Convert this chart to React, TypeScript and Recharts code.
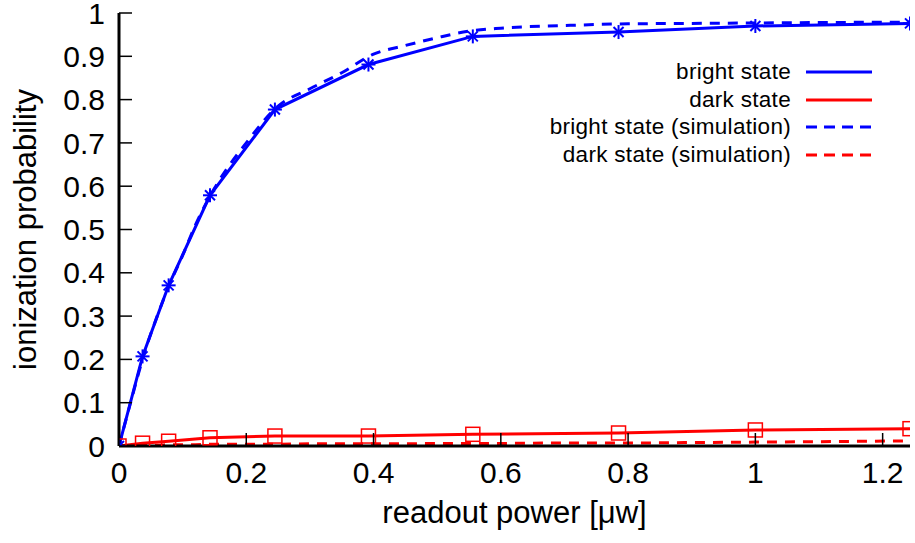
import { LineChart, Line, XAxis, YAxis } from 'recharts';

const FONT = '"Liberation Sans", Arial, Helvetica, sans-serif';
const BLUE = '#0000ff';
const RED = '#ff0000';

// measured points
const powerMeasured = [0, 0.037, 0.078, 0.143, 0.245, 0.392, 0.556, 0.785, 1.0, 1.243];
const brightMeasured = [0, 0.207, 0.371, 0.579, 0.777, 0.881, 0.946, 0.956, 0.97, 0.976];
const darkMeasured = [0, 0.0065, 0.011, 0.019, 0.023, 0.023, 0.027, 0.03, 0.037, 0.04];

// simulation curves
const powerSim = [0, 0.02, 0.04, 0.06, 0.08, 0.1, 0.12, 0.15, 0.2, 0.25, 0.3, 0.35, 0.4, 0.45, 0.5, 0.55, 0.6, 0.7, 0.8, 0.9, 1.0, 1.1, 1.243];
const brightSim = [0, 0.11, 0.215, 0.3, 0.375, 0.44, 0.51, 0.595, 0.7, 0.785, 0.825, 0.862, 0.905, 0.925, 0.943, 0.958, 0.965, 0.971, 0.975, 0.976, 0.977, 0.978, 0.979];
const darkSim = [0, 0.001, 0.002, 0.002, 0.003, 0.003, 0.003, 0.004, 0.004, 0.004, 0.005, 0.005, 0.005, 0.005, 0.006, 0.006, 0.006, 0.007, 0.007, 0.008, 0.009, 0.01, 0.012];

const xTicks = [0, 0.2, 0.4, 0.6, 0.8, 1, 1.2];
const yTicks = [0, 0.1, 0.2, 0.3, 0.4, 0.5, 0.6, 0.7, 0.8, 0.9, 1];
const X_MAX = 1.243;

const legendItems = [
  { name: 'bright state', color: BLUE, dashed: false },
  { name: 'dark state', color: RED, dashed: false },
  { name: 'bright state (simulation)', color: BLUE, dashed: true },
  { name: 'dark state (simulation)', color: RED, dashed: true },
];

const measuredData = powerMeasured.map((p, i) => ({ p, bright: brightMeasured[i], dark: darkMeasured[i] }));
const simData = powerSim.map((p, i) => ({ p, bright: brightSim[i], dark: darkSim[i] }));

const TICK_LEN = 13;
const X_GAP = 16;
const Y_GAP = 14;
const DASH = '10 8';
const TICK_FONT = 30;
const TITLE_FONT = 31;

const BottomTick = ({ x, y, payload }: any) => {
  const axisY = y - X_GAP;
  return (
    <g>
      <line x1={x} x2={x} y1={axisY} y2={axisY - TICK_LEN} stroke="#000" strokeWidth={1.5} />
      <text x={x} y={y} dy="0.71em" textAnchor="middle" fontSize={TICK_FONT} fontFamily={FONT} fill="#000">
        {String(payload.value)}
      </text>
    </g>
  );
};

const LeftTick = ({ x, y, payload }: any) => {
  const axisX = x + Y_GAP;
  return (
    <g>
      <line x1={axisX} x2={axisX + TICK_LEN} y1={y} y2={y} stroke="#000" strokeWidth={1.5} />
      <text x={x} y={y} dy="0.355em" textAnchor="end" fontSize={TICK_FONT} fontFamily={FONT} fill="#000">
        {String(payload.value)}
      </text>
    </g>
  );
};

const TopTick = ({ x, y }: any) => (
  <line x1={x} x2={x} y1={y} y2={y + TICK_LEN} stroke="#000" strokeWidth={1.5} />
);

const RightTick = ({ x, y }: any) => (
  <line x1={x} x2={x - TICK_LEN} y1={y} y2={y} stroke="#000" strokeWidth={1.5} />
);

const StarDot = ({ cx, cy, index }: any) => {
  const r = 7;
  const d = 5;
  return (
    <g key={`star-${index}`} stroke={BLUE} strokeWidth={2}>
      <line x1={cx - r} x2={cx + r} y1={cy} y2={cy} />
      <line x1={cx} x2={cx} y1={cy - r} y2={cy + r} />
      <line x1={cx - d} x2={cx + d} y1={cy - d} y2={cy + d} />
      <line x1={cx - d} x2={cx + d} y1={cy + d} y2={cy - d} />
    </g>
  );
};

const SquareDot = ({ cx, cy, index }: any) => (
  <rect key={`sq-${index}`} x={cx - 7} y={cy - 7} width={14} height={14} fill="none" stroke={RED} strokeWidth={1.5} />
);

const Legend = () => (
  <div style={{ position: 'absolute', left: 0, top: 58, width: 887, fontFamily: FONT, fontSize: 22.5, letterSpacing: 0.3 }}>
    {legendItems.map((item) => (
      <div key={item.name} style={{ display: 'flex', alignItems: 'center', justifyContent: 'flex-end', height: 27.8 }}>
        <span style={{ color: '#000' }}>{item.name}</span>
        <svg width={81} height={10} style={{ marginLeft: 15 }}>
          <line x1={0} x2={66} y1={5} y2={5} stroke={item.color} strokeWidth={3} strokeDasharray={item.dashed ? '11 7' : undefined} />
        </svg>
      </div>
    ))}
  </div>
);

export default function App() {
  return (
    <div style={{ position: 'absolute', left: 0, top: 0, width: 915, height: 543, background: '#fff' }}>
      <LineChart width={915} height={543} margin={{ top: 13, right: 5, bottom: 0, left: 0 }}>
        <XAxis
          xAxisId="bottom"
          dataKey="p"
          type="number"
          domain={[0, X_MAX]}
          ticks={xTicks}
          interval={0}
          height={97}
          tickSize={0}
          tickMargin={X_GAP}
          tick={<BottomTick />}
          tickLine={false}
          axisLine={{ stroke: '#000', strokeWidth: 3 }}
          allowDataOverflow
          label={{ value: 'readout power [μw]', position: 'insideBottom', offset: 20, style: { fontSize: TITLE_FONT, fill: '#000', fontFamily: FONT } }}
        />
        <XAxis
          xAxisId="top"
          orientation="top"
          dataKey="p"
          type="number"
          domain={[0, X_MAX]}
          ticks={xTicks}
          interval={0}
          height={0}
          tickSize={0}
          tickMargin={0}
          tick={<TopTick />}
          tickLine={false}
          axisLine={{ stroke: '#000', strokeWidth: 3 }}
          allowDataOverflow
        />
        <YAxis
          yAxisId="left"
          type="number"
          domain={[0, 1]}
          ticks={yTicks}
          interval={0}
          width={119}
          tickSize={0}
          tickMargin={Y_GAP}
          tick={<LeftTick />}
          tickLine={false}
          axisLine={{ stroke: '#000', strokeWidth: 3 }}
          allowDataOverflow
          label={{ value: 'ionization probability', angle: -90, position: 'insideLeft', offset: 25, style: { textAnchor: 'middle', fontSize: TITLE_FONT, fill: '#000', fontFamily: FONT } }}
        />
        <YAxis
          yAxisId="right"
          orientation="right"
          type="number"
          domain={[0, 1]}
          ticks={yTicks}
          interval={0}
          width={0}
          tickSize={0}
          tickMargin={0}
          tick={<RightTick />}
          tickLine={false}
          axisLine={{ stroke: '#000', strokeWidth: 3 }}
          allowDataOverflow
        />
        <Line
          xAxisId="bottom"
          yAxisId="left"
          data={measuredData}
          dataKey="bright"
          name="bright state"
          type="linear"
          stroke={BLUE}
          strokeWidth={3}
          dot={<StarDot />}
          activeDot={false}
          isAnimationActive={false}
        />
        <Line
          xAxisId="bottom"
          yAxisId="left"
          data={measuredData}
          dataKey="dark"
          name="dark state"
          type="linear"
          stroke={RED}
          strokeWidth={3}
          dot={<SquareDot />}
          activeDot={false}
          isAnimationActive={false}
        />
        <Line
          xAxisId="bottom"
          yAxisId="left"
          data={simData}
          dataKey="bright"
          name="bright state (simulation)"
          type="monotone"
          stroke={BLUE}
          strokeWidth={3}
          strokeDasharray={DASH}
          dot={false}
          activeDot={false}
          isAnimationActive={false}
        />
        <Line
          xAxisId="bottom"
          yAxisId="left"
          data={simData}
          dataKey="dark"
          name="dark state (simulation)"
          type="monotone"
          stroke={RED}
          strokeWidth={3}
          strokeDasharray={DASH}
          dot={false}
          activeDot={false}
          isAnimationActive={false}
        />
      </LineChart>
      <Legend />
    </div>
  );
}
